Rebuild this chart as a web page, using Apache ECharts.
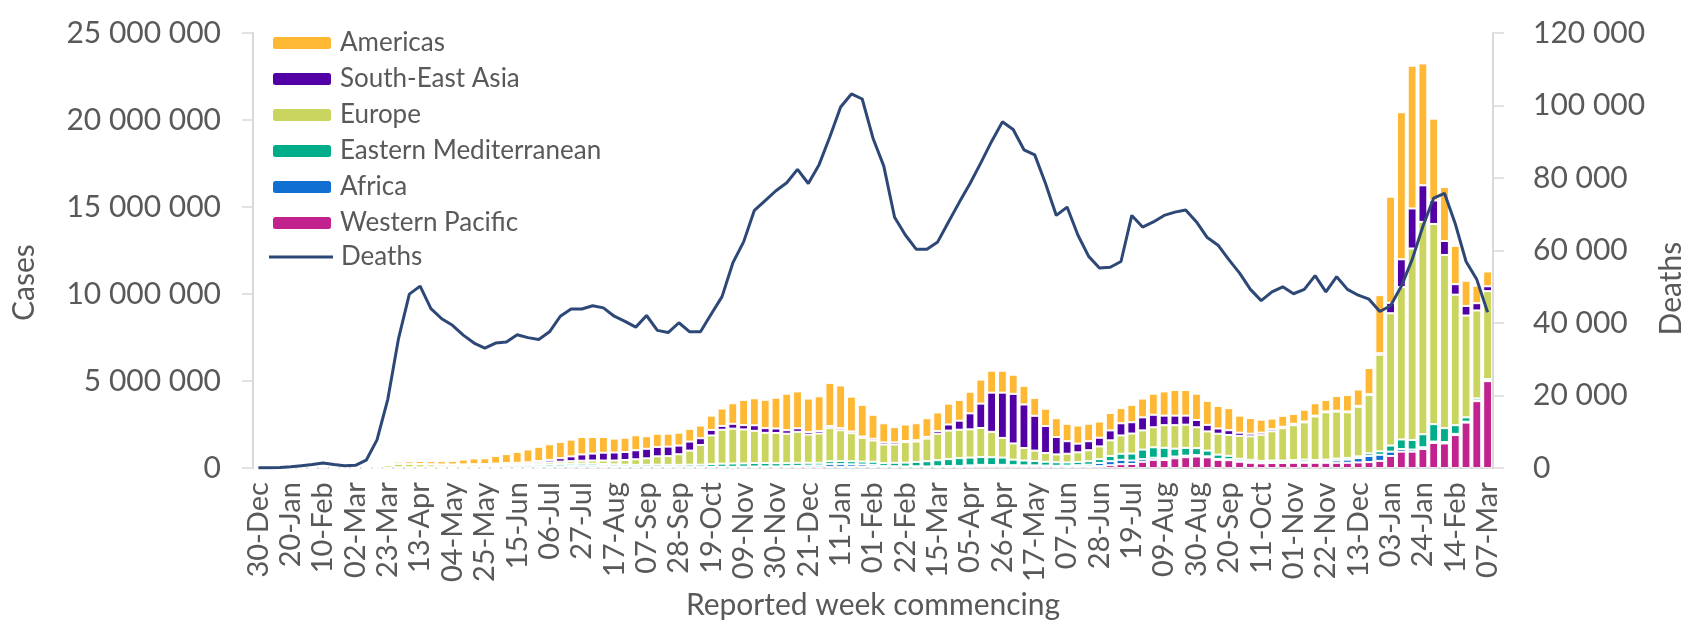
<!DOCTYPE html>
<html>
<head>
<meta charset="utf-8">
<script src="https://cdn.jsdelivr.net/npm/echarts@6/dist/echarts.min.js"></script>
<style>
  html, body { margin: 0; padding: 0; background: #fff; }
  #chart { width: 1698px; height: 625px; }
</style>
</head>
<body>
<div id="chart"></div>
<script>
// week commencing labels (30 Dec 2019 .. 07 Mar 2022)
var weeks = [
  '30-Dec',
  '06-Jan','13-Jan','20-Jan','27-Jan','03-Feb','10-Feb','17-Feb','24-Feb','02-Mar','09-Mar','16-Mar','23-Mar','30-Mar',
  '06-Apr','13-Apr','20-Apr','27-Apr','04-May','11-May','18-May','25-May','01-Jun','08-Jun','15-Jun','22-Jun','29-Jun',
  '06-Jul','13-Jul','20-Jul','27-Jul','03-Aug','10-Aug','17-Aug','24-Aug','31-Aug','07-Sep','14-Sep','21-Sep','28-Sep',
  '05-Oct','12-Oct','19-Oct','26-Oct','02-Nov','09-Nov','16-Nov','23-Nov','30-Nov','07-Dec','14-Dec','21-Dec','28-Dec',
  '04-Jan','11-Jan','18-Jan','25-Jan','01-Feb','08-Feb','15-Feb','22-Feb','01-Mar','08-Mar','15-Mar','22-Mar','29-Mar',
  '05-Apr','12-Apr','19-Apr','26-Apr','03-May','10-May','17-May','24-May','31-May','07-Jun','14-Jun','21-Jun','28-Jun',
  '05-Jul','12-Jul','19-Jul','26-Jul','02-Aug','09-Aug','16-Aug','23-Aug','30-Aug','06-Sep','13-Sep','20-Sep','27-Sep',
  '04-Oct','11-Oct','18-Oct','25-Oct','01-Nov','08-Nov','15-Nov','22-Nov','29-Nov','06-Dec','13-Dec','20-Dec','27-Dec',
  '03-Jan','10-Jan','17-Jan','24-Jan','31-Jan','07-Feb','14-Feb','21-Feb','28-Feb','07-Mar'
];

// weekly cases by region, millions
var americas = [
  0,0,0,0,0,0,0,0,0,0.001,0.004,0.02,0.03,0.12,0.15,0.17,0.18,0.19,0.2,0.28,0.33,0.33,0.44,0.52,0.63,0.74,
  0.82,0.9,0.93,0.96,1.0,0.95,0.9,0.8,0.82,0.86,0.72,0.76,0.74,0.74,0.73,0.73,0.82,1.0,1.18,1.45,1.55,1.63,1.77,2.1,2.12,1.92,2.0,
  2.48,2.45,2.0,1.82,1.38,1.1,0.88,0.95,0.97,1.07,1.07,1.2,1.19,1.24,1.38,1.26,1.26,1.1,1.07,1.03,1.0,1.08,1.0,1.04,1.0,0.93,
  1.0,0.87,1.0,1.08,1.21,1.39,1.47,1.47,1.51,1.38,1.3,1.27,0.98,0.9,0.75,0.61,0.63,0.56,0.68,0.71,0.66,0.85,0.94,0.94,1.5,3.34,
  6.1,8.45,8.2,7.0,4.7,3.1,2.2,1.45,1.0,0.85
];
var seAsia = [
  0,0,0,0,0,0,0,0,0,0,0.001,0.001,0.002,0.005,0.008,0.01,0.012,0.015,0.02,0.025,0.03,0.035,0.04,0.05,0.06,0.07,
  0.1,0.14,0.2,0.28,0.36,0.4,0.45,0.46,0.46,0.52,0.55,0.54,0.55,0.5,0.52,0.39,0.32,0.22,0.28,0.25,0.32,0.27,0.26,0.2,0.2,0.15,0.14,
  0.12,0.12,0.1,0.08,0.1,0.12,0.12,0.06,0.08,0.1,0.15,0.35,0.52,0.92,1.4,2.25,2.6,2.85,2.5,2.0,1.55,1.0,0.72,0.5,0.52,0.5,
  0.57,0.7,0.65,0.75,0.72,0.55,0.55,0.52,0.42,0.38,0.3,0.27,0.18,0.15,0.12,0.12,0.08,0.08,0.05,0.05,0.05,0.05,0.05,0.05,0.05,0.08,
  0.6,1.6,2.3,2.1,1.35,0.8,0.6,0.55,0.42,0.28
];
var europe = [
  0,0,0,0,0,0,0,0,0.001,0.006,0.03,0.1,0.15,0.2,0.2,0.18,0.16,0.14,0.13,0.12,0.11,0.1,0.1,0.1,0.1,0.1,
  0.12,0.13,0.14,0.15,0.17,0.18,0.2,0.22,0.27,0.32,0.37,0.48,0.5,0.61,0.81,1.13,1.65,1.95,2.0,1.95,1.85,1.73,1.73,1.69,1.78,1.62,1.68,
  1.9,1.77,1.61,1.36,1.22,1.07,1.05,1.18,1.17,1.3,1.52,1.64,1.63,1.62,1.67,1.46,1.13,0.93,0.72,0.6,0.5,0.45,0.5,0.55,0.63,0.73,
  0.9,1.05,1.15,1.1,1.15,1.3,1.35,1.33,1.2,1.1,1.2,1.2,1.32,1.35,1.5,1.68,1.86,2.0,2.14,2.5,2.72,2.7,2.62,2.85,3.35,5.55,
  7.6,8.75,11.0,12.2,11.5,9.95,7.5,5.85,5.05,5.05
];
var eastMed = [
  0,0,0,0,0,0,0,0,0.001,0.003,0.008,0.015,0.02,0.03,0.03,0.03,0.035,0.04,0.045,0.05,0.065,0.075,0.09,0.1,0.1,0.11,
  0.12,0.12,0.13,0.13,0.12,0.12,0.12,0.11,0.1,0.11,0.12,0.13,0.12,0.13,0.14,0.14,0.16,0.18,0.19,0.19,0.2,0.2,0.19,0.18,0.18,0.16,0.15,
  0.17,0.18,0.18,0.17,0.18,0.17,0.2,0.22,0.25,0.3,0.35,0.4,0.45,0.45,0.45,0.45,0.42,0.32,0.28,0.25,0.22,0.2,0.18,0.19,0.2,0.22,
  0.3,0.35,0.4,0.55,0.6,0.6,0.45,0.45,0.4,0.33,0.25,0.2,0.12,0.12,0.1,0.1,0.1,0.12,0.12,0.1,0.1,0.1,0.1,0.1,0.15,0.2,
  0.35,0.55,0.55,0.75,1.0,0.8,0.5,0.25,0.12,0.08
];
var africa = [
  0,0,0,0,0,0,0,0,0,0,0,0.001,0.002,0.003,0.005,0.006,0.008,0.01,0.012,0.015,0.018,0.022,0.028,0.032,0.038,0.045,
  0.055,0.065,0.08,0.09,0.1,0.1,0.08,0.07,0.06,0.05,0.045,0.04,0.04,0.035,0.035,0.035,0.04,0.045,0.045,0.05,0.055,0.06,0.06,0.065,0.08,0.1,0.11,
  0.17,0.17,0.15,0.15,0.12,0.07,0.06,0.05,0.05,0.05,0.05,0.05,0.05,0.06,0.07,0.06,0.07,0.05,0.05,0.05,0.05,0.05,0.06,0.08,0.1,0.18,
  0.23,0.25,0.2,0.15,0.12,0.1,0.1,0.09,0.08,0.06,0.05,0.05,0.05,0.05,0.04,0.04,0.04,0.04,0.06,0.06,0.08,0.14,0.18,0.25,0.35,0.35,
  0.25,0.15,0.12,0.1,0.08,0.08,0.07,0.05,0.04,0.04
];
var westPacific = [
  0,0.001,0.005,0.012,0.02,0.022,0.035,0.012,0.006,0.005,0.005,0.008,0.01,0.02,0.015,0.012,0.01,0.008,0.006,0.006,0.006,0.006,0.007,0.008,0.01,0.01,
  0.015,0.02,0.025,0.03,0.04,0.04,0.04,0.04,0.04,0.03,0.03,0.03,0.03,0.025,0.025,0.025,0.03,0.035,0.035,0.035,0.04,0.04,0.04,0.045,0.05,0.05,0.05,
  0.06,0.06,0.07,0.06,0.07,0.05,0.05,0.05,0.06,0.05,0.06,0.07,0.08,0.1,0.12,0.12,0.12,0.12,0.11,0.11,0.1,0.09,0.09,0.09,0.1,0.12,
  0.17,0.23,0.24,0.37,0.48,0.47,0.57,0.63,0.67,0.62,0.48,0.46,0.37,0.31,0.28,0.3,0.3,0.31,0.31,0.31,0.31,0.31,0.31,0.33,0.35,0.42,
  0.7,0.95,0.95,1.1,1.45,1.42,1.9,2.62,3.85,5.0
];

// global weekly deaths, thousands
var deaths = [
  0.1,0.1,0.2,0.4,0.7,1.0,1.4,1.0,0.7,0.8,2.2,7.8,19.0,35.8,48.0,50.2,44.0,41.2,39.4,36.7,34.5,33.1,34.5,34.8,36.8,36.0,
  35.5,37.6,41.9,43.9,43.9,44.8,44.2,41.9,40.5,38.9,42.1,38.0,37.4,40.1,37.6,37.6,42.5,47.3,56.6,62.4,71.1,73.8,76.5,78.7,82.4,78.5,83.7,
  91.4,99.6,103.2,101.8,91.0,83.3,69.2,64.3,60.4,60.4,62.4,67.9,73.3,78.5,84.2,90.1,95.5,93.4,87.8,86.4,78.5,69.7,72.0,64.3,58.4,55.2,
  55.4,57.0,69.7,66.5,67.9,69.7,70.6,71.2,67.9,63.6,61.5,57.5,53.8,49.3,46.2,48.6,50.0,48.1,49.3,53.1,48.6,52.8,49.3,47.7,46.6,43.2,
  44.8,50.2,57.5,66.7,74.5,75.8,67.4,57.0,52.0,43.0
];

var regions = [
  { name: 'Western Pacific', data: westPacific, color: '#C1228E' },
  { name: 'Africa', data: africa, color: '#0F6FD3' },
  { name: 'Eastern Mediterranean', data: eastMed, color: '#00AD8B' },
  { name: 'Europe', data: europe, color: '#C9D55E' },
  { name: 'South-East Asia', data: seAsia, color: '#5200A6' },
  { name: 'Americas', data: americas, color: '#FFB833' }
];

var FONT = 'Lato';
var GREY = '#595959';
var AXIS = '#D9D9D9';
var NAVY = '#2D4776';

function spaced(v) {
  return String(v).replace(/\B(?=(\d{3})+(?!\d))/g, ' ');
}

var series = regions.map(function (r) {
  return {
    name: r.name,
    type: 'bar',
    stack: 'cases',
    barCategoryGap: '18%',
    itemStyle: { color: r.color, borderColor: '#fff', borderWidth: 1 },
    data: r.data.map(function (v) { return Math.round(v * 1e6); })
  };
});
series.push({
  name: 'Deaths',
  type: 'line',
  yAxisIndex: 1,
  symbol: 'none',
  z: 10,
  lineStyle: { color: NAVY, width: 3 },
  itemStyle: { color: NAVY },
  data: deaths.map(function (v) { return Math.round(v * 1000); })
});

var legendText = { fontFamily: FONT, fontSize: 26, color: GREY, padding: [0, 0, 0, 3] };

var chart = echarts.init(document.getElementById('chart'));
chart.setOption({
  animation: false,
  textStyle: { fontFamily: FONT },
  grid: { left: 253, right: 205, top: 33, bottom: 150 },
  legend: [
    {
      orient: 'vertical',
      left: 266,
      top: 25,
      itemWidth: 60,
      itemHeight: 14,
      itemGap: 10,
      data: ['Americas', 'South-East Asia', 'Europe', 'Eastern Mediterranean', 'Africa', 'Western Pacific'],
      textStyle: legendText
    },
    {
      // line key drawn as a plain stroke, no marker
      orient: 'vertical',
      left: 264,
      top: 239,
      itemWidth: 64,
      itemHeight: 3,
      icon: 'rect',
      data: ['Deaths'],
      textStyle: legendText
    }
  ],
  xAxis: {
    type: 'category',
    data: weeks,
    name: 'Reported week commencing',
    nameLocation: 'middle',
    nameGap: 110,
    nameTextStyle: { fontFamily: FONT, fontSize: 30, color: GREY },
    axisLine: { lineStyle: { color: AXIS, width: 2 } },
    axisTick: { interval: 0, length: 7, lineStyle: { color: AXIS, width: 1.5 } },
    axisLabel: { interval: 2, rotate: 90, margin: 14, fontFamily: FONT, fontSize: 29, color: GREY }
  },
  yAxis: [
    {
      type: 'value',
      min: 0, max: 25000000, interval: 5000000,
      name: 'Cases',
      nameLocation: 'middle',
      nameGap: 214,
      nameTextStyle: { fontFamily: FONT, fontSize: 30, color: GREY, padding: [0, 64, 0, 0] },
      axisLine: { show: true, lineStyle: { color: AXIS, width: 2 } },
      axisTick: { show: true, length: 11, lineStyle: { color: AXIS, width: 1.5 } },
      splitLine: { show: false },
      axisLabel: { margin: 32, fontFamily: FONT, fontSize: 30, color: GREY, formatter: spaced }
    },
    {
      type: 'value',
      position: 'right',
      min: 0, max: 120000, interval: 20000,
      name: 'Deaths',
      nameLocation: 'middle',
      nameGap: 160,
      nameTextStyle: { fontFamily: FONT, fontSize: 30, color: GREY, padding: [0, 76, 0, 0] },
      axisLine: { show: true, lineStyle: { color: AXIS, width: 2 } },
      axisTick: { show: true, length: 11, lineStyle: { color: AXIS, width: 1.5 } },
      splitLine: { show: false },
      axisLabel: { margin: 40, fontFamily: FONT, fontSize: 30, color: GREY, formatter: spaced }
    }
  ],
  series: series
});
</script>
</body>
</html>
